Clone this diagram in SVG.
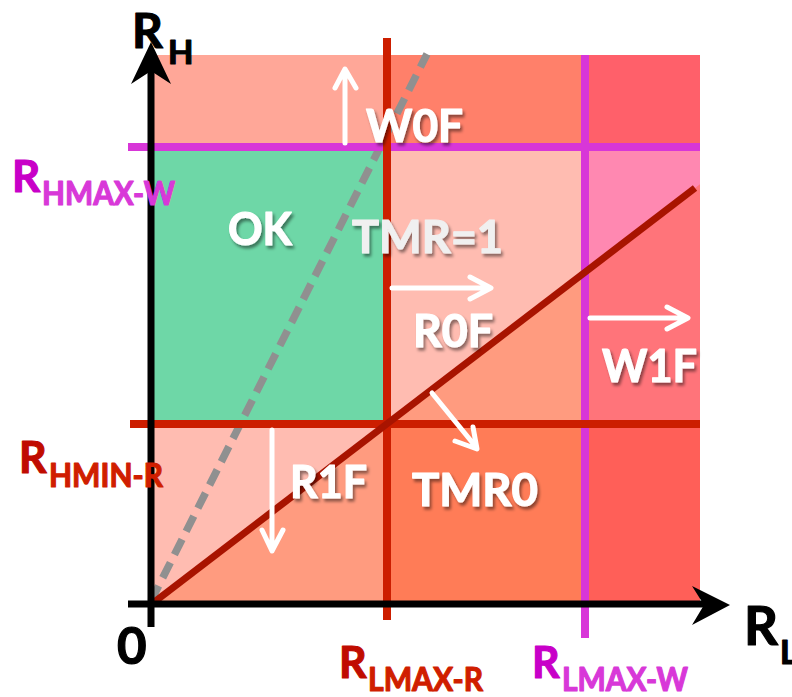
<svg xmlns="http://www.w3.org/2000/svg" width="792" height="697" viewBox="0 0 792 697">
<defs>
<style>
.lbl{font-family:Lato,"Open Sans","Liberation Sans",sans-serif;font-weight:bold;stroke-width:1.2;stroke-linejoin:round;}
.w{fill:#ffffff;stroke:#ffffff;filter:url(#sh);}
.warr{fill:none;stroke:#ffffff;stroke-width:5;stroke-linecap:round;stroke-linejoin:round;}
.red{stroke:#CC1E00;stroke-width:8;}
.mag{stroke:#D836D8;stroke-width:8;}
</style>
<filter id="sh" x="-20%" y="-20%" width="140%" height="150%">
<feDropShadow dx="2" dy="3" stdDeviation="1.5" flood-color="#000" flood-opacity="0.45"/>
</filter>
</defs>
<rect width="792" height="697" fill="#ffffff"/>
<g id="regions">
<rect x="153" y="55" width="234" height="92" fill="#FFA798"/>
<rect x="387" y="55" width="198" height="92" fill="#FF806A"/>
<rect x="585" y="55" width="115" height="92" fill="#FF606A"/>
<rect x="153" y="147" width="234" height="277" fill="#6ED7A7"/>
<rect x="387" y="147" width="198" height="277" fill="#FFBCB1"/>
<polygon points="387,424 585,272.4 585,424" fill="#FF9B7F"/>
<rect x="585" y="147" width="115" height="277" fill="#FF88B1"/>
<polygon points="585,272.4 700,184.3 700,424 585,424" fill="#FF747A"/>
<rect x="153" y="424" width="234" height="179" fill="#FFBCB1"/>
<polygon points="153,603 387,424 387,603" fill="#FF9B7F"/>
<rect x="387" y="424" width="198" height="179" fill="#FF7C57"/>
<rect x="585" y="424" width="115" height="179" fill="#FF5F58"/>
</g>
<g id="connectors">
<line x1="151" y1="601" x2="427" y2="54" stroke="#909090" stroke-width="7.5" stroke-dasharray="17 9"/>
<line x1="128" y1="147" x2="700" y2="147" class="mag"/>
<line x1="585" y1="55" x2="585" y2="638" class="mag"/>
<line x1="387" y1="38" x2="387" y2="620" class="red"/>
<line x1="130" y1="424" x2="700" y2="424" class="red"/>
<line x1="153" y1="603" x2="695" y2="188" stroke="#A81400" stroke-width="7"/>
<path class="warr" d="M345,143 V70 M335,88 L345,69 L356,88"/>
<path class="warr" d="M392,288 H490 M470,277 L491,288 L470,299"/>
<path class="warr" d="M590,318 H687 M667,307 L688,318 L667,329"/>
<path class="warr" d="M272,430 V549 M262,530 L272,551 L283,530"/>
<path class="warr" d="M432,393 L476,447 M455,441 L477,449 L473,427"/>
</g>
<g id="axes">
<line x1="151" y1="627" x2="151" y2="70" stroke="#000" stroke-width="7"/>
<polygon points="151,42 171,84 151,71 131,84" fill="#000"/>
<line x1="128" y1="604" x2="708" y2="604" stroke="#000" stroke-width="7"/>
<polygon points="730,605 692,625 704,605 692,586" fill="#000"/>
</g>
<g id="axis-labels" class="lbl">
<text x="132" y="48" font-size="48" fill="#000" stroke="#000">R</text>
<text x="168" y="64" font-size="33" fill="#000" stroke="#000">H</text>
<text x="744" y="645" font-size="53" fill="#000" stroke="#000">R</text>
<text x="780" y="664" font-size="33" fill="#000" stroke="#000">L</text>
<text x="117" y="664" font-size="51" fill="#000" stroke="#000">0</text>
</g>
<g id="threshold-labels" class="lbl">
<text x="12" y="192" font-size="44" fill="#C800C8" stroke="#C800C8">R</text>
<text x="42" y="205" font-size="33" fill="#D838D8" stroke="#D838D8" textLength="133" lengthAdjust="spacingAndGlyphs">HMAX-W</text>
<text x="19" y="473" font-size="43" fill="#C00C00" stroke="#C00C00">R</text>
<text x="49" y="487" font-size="33" fill="#D01E00" stroke="#D01E00" textLength="114" lengthAdjust="spacingAndGlyphs">HMIN-R</text>
<text x="339" y="678" font-size="43" fill="#C00C00" stroke="#C00C00">R</text>
<text x="368" y="691" font-size="33" fill="#D01E00" stroke="#D01E00" textLength="115" lengthAdjust="spacingAndGlyphs">LMAX-R</text>
<text x="532" y="678" font-size="43" fill="#C800C8" stroke="#C800C8">R</text>
<text x="562" y="691" font-size="33" fill="#D838D8" stroke="#D838D8" textLength="126" lengthAdjust="spacingAndGlyphs">LMAX-W</text>
</g>
<g id="node-OK"><text class="lbl w" x="228" y="245" font-size="46" textLength="64" lengthAdjust="spacingAndGlyphs">OK</text></g>
<g id="node-TMR1"><text class="lbl w" x="352" y="253" font-size="46" style="fill:#F0F0F0;stroke:#F0F0F0" textLength="151" lengthAdjust="spacingAndGlyphs">TMR=1</text></g>
<g id="node-W0F"><text class="lbl w" x="366" y="142" font-size="46" textLength="97" lengthAdjust="spacingAndGlyphs">W0F</text></g>
<g id="node-R0F"><text class="lbl w" x="413" y="347" font-size="46" textLength="80" lengthAdjust="spacingAndGlyphs">R0F</text></g>
<g id="node-W1F"><text class="lbl w" x="602" y="382" font-size="46" textLength="95" lengthAdjust="spacingAndGlyphs">W1F</text></g>
<g id="node-R1F"><text class="lbl w" x="290" y="498" font-size="46" textLength="77" lengthAdjust="spacingAndGlyphs">R1F</text></g>
<g id="node-TMR0"><text class="lbl w" x="412" y="506" font-size="46" textLength="126" lengthAdjust="spacingAndGlyphs">TMR0</text></g>
</svg>
